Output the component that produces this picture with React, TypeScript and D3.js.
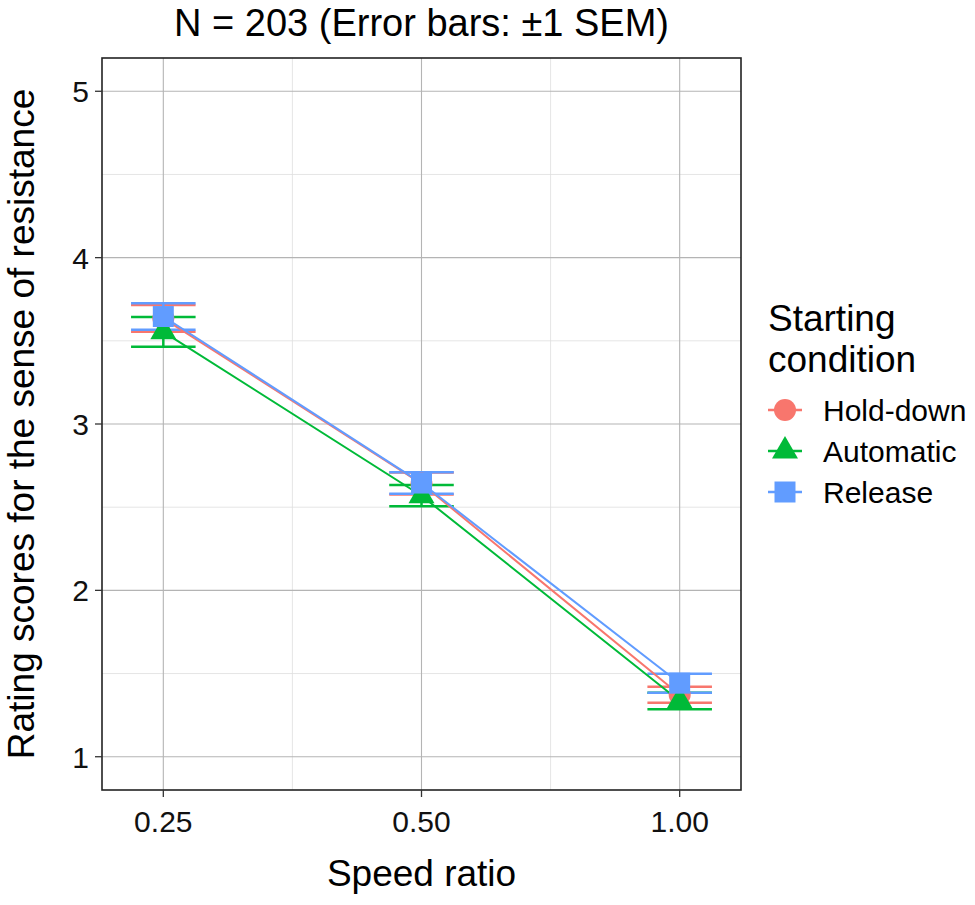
import React from 'react'
import * as d3 from 'd3'

// speed ratio levels are placed at positions 1..3 on the x axis
const speedRatios = ['0.25', '0.50', '1.00']
const conditions = ['Hold-down', 'Automatic', 'Release']
const conditionColors = ['#F8766D', '#00BA38', '#619CFF']

const holdDownMean = [3.635, 2.642, 1.372]
const holdDownSem = [0.08, 0.066, 0.048]
const automaticMean = [3.554, 2.569, 1.335]
const automaticSem = [0.089, 0.064, 0.05]
const releaseMean = [3.646, 2.645, 1.442]
const releaseSem = [0.08, 0.065, 0.057]

const yTicks = [1, 2, 3, 4, 5]
const yMinor = [1.5, 2.5, 3.5, 4.5]
const xMinor = [1.5, 2.5]

const title = 'N = 203 (Error bars: ±1 SEM)'
const xTitle = 'Speed ratio'
const yTitle = 'Rating scores for the sense of resistance'
const legendTitle = ['Starting', 'condition']

const W = 975
const H = 905
const panel = { left: 102, right: 741, top: 58, bottom: 790 }
const font = '"Liberation Sans", Arial, Helvetica, sans-serif'

const series = [
  { name: conditions[0], mean: holdDownMean, sem: holdDownSem, color: conditionColors[0], shape: d3.symbolCircle, size: Math.PI * 11 * 11 },
  { name: conditions[1], mean: automaticMean, sem: automaticSem, color: conditionColors[1], shape: d3.symbolTriangle, size: (Math.sqrt(3) / 4) * 26 * 26 },
  { name: conditions[2], mean: releaseMean, sem: releaseSem, color: conditionColors[2], shape: d3.symbolSquare, size: 21 * 21 },
]

export default function App() {
  const x = d3.scaleLinear().domain([0.7625, 3.2375]).range([panel.left, panel.right])
  const y = d3.scaleLinear().domain([0.8, 5.2]).range([panel.bottom, panel.top])
  const barHalf = 0.125
  const line = d3
    .line<number>()
    .x((_, i) => x(i + 1))
    .y((d) => y(d))

  const cx = (panel.left + panel.right) / 2
  const cy = (panel.top + panel.bottom) / 2

  return (
    <svg
      width={W}
      height={H}
      style={{ position: 'absolute', left: 0, top: 0, background: '#fff' }}
      fontFamily={font}
    >
      <rect x={0} y={0} width={W} height={H} fill="#fff" />

      {/* grid */}
      <g>
        {yMinor.map((v) => (
          <line key={'ym' + v} x1={panel.left} x2={panel.right} y1={y(v)} y2={y(v)} stroke="#dedede" strokeWidth={0.8} />
        ))}
        {xMinor.map((v) => (
          <line key={'xm' + v} y1={panel.top} y2={panel.bottom} x1={x(v)} x2={x(v)} stroke="#dedede" strokeWidth={0.8} />
        ))}
        {yTicks.map((v) => (
          <line key={'y' + v} x1={panel.left} x2={panel.right} y1={y(v)} y2={y(v)} stroke="#b4b4b4" strokeWidth={1.1} />
        ))}
        {speedRatios.map((_, i) => (
          <line key={'x' + i} y1={panel.top} y2={panel.bottom} x1={x(i + 1)} x2={x(i + 1)} stroke="#b4b4b4" strokeWidth={1.1} />
        ))}
      </g>

      {/* error bars */}
      {series.map((s) => (
        <g key={'eb' + s.name} stroke={s.color} strokeWidth={2.5}>
          {s.mean.map((m, i) => (
            <g key={i}>
              <line x1={x(i + 1 - barHalf)} x2={x(i + 1 + barHalf)} y1={y(m + s.sem[i])} y2={y(m + s.sem[i])} />
              <line x1={x(i + 1 - barHalf)} x2={x(i + 1 + barHalf)} y1={y(m - s.sem[i])} y2={y(m - s.sem[i])} />
              <line x1={x(i + 1)} x2={x(i + 1)} y1={y(m + s.sem[i])} y2={y(m - s.sem[i])} />
            </g>
          ))}
        </g>
      ))}

      {/* lines */}
      {series.map((s) => (
        <path key={'ln' + s.name} d={line(s.mean) ?? ''} fill="none" stroke={s.color} strokeWidth={2} />
      ))}

      {/* points */}
      {series.map((s) => (
        <g key={'pt' + s.name} fill={s.color}>
          {s.mean.map((m, i) => (
            <path key={i} transform={`translate(${x(i + 1)},${y(m)})`} d={d3.symbol(s.shape, s.size)() ?? ''} />
          ))}
        </g>
      ))}

      {/* panel border */}
      <rect
        x={panel.left}
        y={panel.top}
        width={panel.right - panel.left}
        height={panel.bottom - panel.top}
        fill="none"
        stroke="#222"
        strokeWidth={1.6}
      />

      {/* y axis */}
      <g>
        {yTicks.map((v) => (
          <g key={v}>
            <line x1={panel.left - 7} x2={panel.left} y1={y(v)} y2={y(v)} stroke="#333" strokeWidth={1.3} />
            <text x={panel.left - 13} y={y(v) + 11} textAnchor="end" fontSize={30} fill="#111">
              {v}
            </text>
          </g>
        ))}
      </g>

      {/* x axis */}
      <g>
        {speedRatios.map((lab, i) => (
          <g key={lab}>
            <line x1={x(i + 1)} x2={x(i + 1)} y1={panel.bottom} y2={panel.bottom + 7} stroke="#333" strokeWidth={1.3} />
            <text x={x(i + 1)} y={panel.bottom + 42} textAnchor="middle" fontSize={30} fill="#111">
              {lab}
            </text>
          </g>
        ))}
      </g>

      {/* titles */}
      <text x={cx} y={36} textAnchor="middle" fontSize={38} fill="#000">
        {title}
      </text>
      <text x={cx} y={886} textAnchor="middle" fontSize={37} fill="#000">
        {xTitle}
      </text>
      <text transform={`translate(34,${cy}) rotate(-90)`} textAnchor="middle" fontSize={37} fill="#000">
        {yTitle}
      </text>

      {/* legend */}
      <g>
        {legendTitle.map((t, i) => (
          <text key={t} x={768} y={331 + i * 41} fontSize={37} fill="#000">
            {t}
          </text>
        ))}
        {series.map((s, i) => {
          const ky = 410 + i * 41
          return (
            <g key={'lg' + s.name}>
              <line x1={768} x2={802} y1={ky} y2={ky} stroke={s.color} strokeWidth={2.5} />
              <path transform={`translate(785,${ky})`} d={d3.symbol(s.shape, s.size)() ?? ''} fill={s.color} />
              <text x={823} y={ky + 11} fontSize={30} fill="#000">
                {s.name}
              </text>
            </g>
          )
        })}
      </g>
    </svg>
  )
}
